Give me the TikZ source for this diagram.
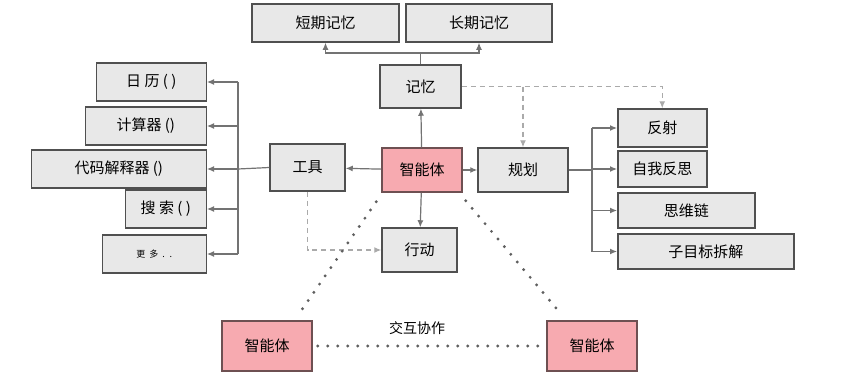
\documentclass[tikz,border=0pt]{standalone}
\usepackage{fontspec}
\setmainfont{Noto Sans CJK SC}
\definecolor{boxfill}{RGB}{232, 232, 232}
\definecolor{boxline}{RGB}{80, 80, 80}
\definecolor{agentfill}{RGB}{247, 170, 176}
\definecolor{agentline}{RGB}{110, 80, 82}
\definecolor{wire}{RGB}{115, 115, 115}
\definecolor{dotwire}{RGB}{95, 95, 95}
\definecolor{dashwire}{RGB}{170, 170, 170}
\usetikzlibrary{arrows.meta, positioning, calc}

\begin{document}
\begin{tikzpicture}[x=1pt, y=-1pt,
    box/.style={draw=boxline, fill=boxfill, line width=1.5pt, inner sep=0pt,
                minimum height=38pt, font=\fontsize{15}{15}\selectfont},
    agentbox/.style={box, draw=agentline, fill=agentfill},
    arrow/.style={draw=wire, line width=1.2pt, -{Latex[length=7pt,width=6pt]}},
    wireline/.style={draw=wire, line width=1.2pt},
    dasharrow/.style={draw=dashwire, line width=1.2pt, dash pattern=on 5pt off 4pt,
                      -{Latex[length=7pt,width=6pt]}},
    dots/.style={draw=dotwire, line width=3.2pt, line cap=round, dash pattern=on 0pt off 10pt}]

    % Canvas
    \useasboundingbox[fill=white] (0,0) rectangle (844,378);

    % Memory
    \node[box, minimum width=147pt] (stm) at (325.5,23) {短期记忆};
    \node[box, minimum width=146pt] (ltm) at (479,23) {长期记忆};
    \node[box, minimum width=81pt, minimum height=43pt] (mem) at (420.5,86.5) {记忆};

    % Centre
    \node[agentbox, minimum width=80pt, minimum height=44pt] (agent) at (422,170) {智能体};
    \node[box, minimum width=75pt, minimum height=47pt] (tools) at (307.5,167.5) {工具};
    \node[box, minimum width=90pt, minimum height=44pt] (plan) at (523,170) {规划};
    \node[box, minimum width=75pt, minimum height=44pt] (act) at (419.5,250) {行动};

    % Tools
    \node[box, anchor=east, minimum width=110pt] (cal) at (207,82) {日 历 ( )};
    \node[box, anchor=east, minimum width=121pt] (calc) at (207,126) {计算器 ()};
    \node[box, anchor=east, minimum width=175pt] (code) at (207,169) {代码解释器 ()};
    \node[box, anchor=east, minimum width=81pt] (search) at (207,209) {搜 索 ( )};
    \node[box, anchor=east, minimum width=104pt, font=\fontsize{9}{9}\selectfont] (more) at (207,254) {更 \ 多 \ . \ .};

    % Planning
    \node[box, anchor=west, minimum width=89pt] (refl) at (617,128) {反射};
    \node[box, anchor=west, minimum width=89pt, minimum height=36pt] (selfr) at (617,169) {自我反思};
    \node[box, anchor=west, minimum width=137pt, minimum height=35pt] (cot) at (617,210.5) {思维链};
    \node[box, anchor=west, minimum width=176pt, minimum height=35pt] (subg) at (617,251.5) {子目标拆解};

    % Other agents
    \node[agentbox, minimum width=90pt, minimum height=50pt] (agentL) at (267,346) {智能体};
    \node[agentbox, minimum width=90pt, minimum height=50pt] (agentR) at (592,346) {智能体};
    \node[font=\fontsize{14}{14}\selectfont] (coop) at (417,328) {交互协作};

    % Agent to modules
    \draw[arrow] (agent) -- (mem);
    \draw[arrow] (agent) -- (tools);
    \draw[arrow] (agent) -- (plan);
    \draw[arrow] (agent) -- (act);

    % Memory split
    \coordinate (mj) at (420.5,53);
    \draw[wireline] (mem.north) -- (mj);
    \draw[arrow] (mj) -| (stm.south);
    \draw[arrow] (mj) -| (ltm.south);

    % Tool bus
    \coordinate (tbus) at (238,169);
    \draw[wireline] (tools.west) -- (tbus);
    \draw[wireline] (238,82) -- (238,254);
    \foreach \t in {cal, calc, code, search, more}
        \draw[arrow] (\t.east -| tbus) -- (\t.east);

    % Planning bus
    \coordinate (pbus) at (592,170);
    \draw[wireline] (plan.east) -- (pbus);
    \draw[wireline] (592,128) -- (592,251.5);
    \foreach \p in {refl, selfr, cot, subg}
        \draw[arrow] (\p.west -| pbus) -- (\p.west);

    % Dashed links
    \draw[dasharrow] (mem.east) -| (refl.north);
    \draw[dasharrow] (mem.east -| plan.north) -- (plan.north);
    \draw[dasharrow] (tools.south) |- (act.west);

    % Multi-agent links
    \draw[dots] ([shift={(-5,9)}]agent.south west) -- ([shift={(-14,-6)}]agentL.north east);
    \draw[dots] ([shift={(3,8)}]agent.south east) -- ([shift={(15,-6)}]agentR.north west);
    \draw[dots] ([xshift=5pt]agentL.east) -- ([xshift=-5pt]agentR.west);
\end{tikzpicture}
\end{document}
